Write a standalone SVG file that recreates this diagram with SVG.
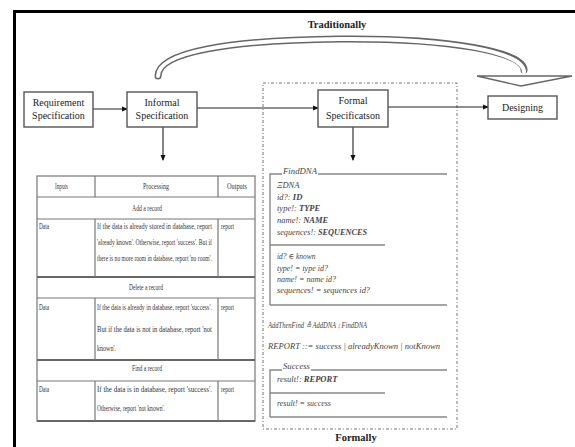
<svg xmlns="http://www.w3.org/2000/svg" width="575" height="447" viewBox="0 0 575 447">
<defs>
<marker id="ah" markerWidth="6" markerHeight="6" refX="5" refY="3" orient="auto" markerUnits="userSpaceOnUse">
<path d="M0,0.5 L6,3 L0,5.5 Z" fill="#111"/>
</marker>
<style>
.box{fill:#fff;stroke:#555;stroke-width:1.4}
.bt{font-family:"Liberation Serif","DejaVu Serif",serif;font-size:10px;fill:#222;text-anchor:middle}
.con{stroke:#222;stroke-width:1.1;fill:none;marker-end:url(#ah)}
.tl{stroke:#777;stroke-width:1.2;fill:none}
.tk{stroke:#666;stroke-width:2.2;fill:none}
.tt{font-family:"Liberation Serif","DejaVu Serif",serif;font-size:9px;fill:#333}
.z{font-family:"Liberation Serif","DejaVu Serif",serif;font-size:8.5px;font-style:italic;fill:#444}
.zb{font-weight:bold}
.zl{stroke:#888;stroke-width:1.4;fill:none}
.lab{font-family:"Liberation Serif","DejaVu Serif",serif;font-size:10.5px;font-weight:bold;fill:#222;text-anchor:middle}
</style>
</defs>
<rect width="575" height="447" fill="#fff"/>
<!-- frame -->
<path d="M14.5,447 V11.5 H575" fill="none" stroke="#000" stroke-width="3"/>

<!-- traditional curved hollow arrow -->
<g id="traditionally">
<text class="lab" x="337" y="28">Traditionally</text>
<path d="M158,76 C158,52 230,40 340,39 C450,38 524,52 524,70" fill="none" stroke="#666" stroke-width="7" stroke-linecap="round"/>
<path d="M158,76 C158,52 230,40 340,39 C450,38 524,52 524,72" fill="none" stroke="#fff" stroke-width="4" stroke-linecap="round"/>
<polygon points="477,76 572,76 521,86" fill="#fff" stroke="#666" stroke-width="1.3"/>
</g>

<!-- formally region -->
<g id="formally">
<rect x="263" y="83" width="194" height="346" fill="none" stroke="#777" stroke-width="1" stroke-dasharray="3,2,1,2"/>
<text class="lab" x="356" y="441">Formally</text>
</g>

<g id="connectors">
<line class="con" x1="93" y1="109" x2="127" y2="109"/>
<line class="con" x1="197" y1="108" x2="318" y2="108"/>
<line class="con" x1="388" y1="107" x2="488" y2="107"/>
<line class="con" x1="163" y1="127" x2="163" y2="160"/>
<line class="con" x1="353" y1="127" x2="353" y2="160"/>
</g>

<g id="requirement">
<rect class="box" x="24" y="92" width="69" height="35"/>
<text class="bt" x="58.5" y="106">Requirement</text>
<text class="bt" x="58.5" y="118.5">Specification</text>
</g>
<g id="informal">
<rect class="box" x="127" y="92" width="70" height="35"/>
<text class="bt" x="162" y="105.5">Informal</text>
<text class="bt" x="162" y="118.5">Specification</text>
</g>
<g id="formal">
<rect class="box" x="318" y="90" width="70" height="37"/>
<text class="bt" x="353" y="104">Formal</text>
<text class="bt" x="353" y="118.5">Specificatson</text>
</g>
<g id="designing">
<rect class="box" x="488" y="96" width="69" height="23"/>
<text class="bt" x="522.5" y="110.5">Designing</text>
</g>

<!-- informal table -->
<g id="informal-table">
<rect class="tl" x="37" y="176" width="218" height="245"/>
<line class="tl" x1="37" y1="197" x2="255" y2="197"/>
<line class="tl" x1="37" y1="219" x2="255" y2="219"/>
<line class="tk" x1="37" y1="277" x2="255" y2="277"/>
<line class="tl" x1="37" y1="298" x2="255" y2="298"/>
<line class="tk" x1="37" y1="360" x2="255" y2="360"/>
<line class="tl" x1="37" y1="381" x2="255" y2="381"/>
<line class="tk" x1="37" y1="421" x2="255" y2="421"/>
<path class="tl" d="M95,176 V197 M218,176 V197 M95,219 V277 M218,219 V277 M95,298 V360 M218,298 V360 M95,381 V421 M218,381 V421"/>
<text class="tt" x="55" y="189" textLength="13" lengthAdjust="spacingAndGlyphs">Inputs</text>
<text class="tt" x="143" y="189" textLength="26" lengthAdjust="spacingAndGlyphs">Processing</text>
<text class="tt" x="227" y="189" textLength="20" lengthAdjust="spacingAndGlyphs">Outputs</text>
<text class="tt" x="132" y="211" textLength="30" lengthAdjust="spacingAndGlyphs">Add a record</text>
<text class="tt" x="39" y="229" textLength="10" lengthAdjust="spacingAndGlyphs">Data</text>
<text class="tt" transform="translate(97,229) scale(0.68,1)" textLength="169" lengthAdjust="spacingAndGlyphs">If the data is already stored in database, report</text>
<text class="tt" transform="translate(97,245) scale(0.68,1)" textLength="169" lengthAdjust="spacingAndGlyphs">'already known'. Otherwise, report 'success'. But if</text>
<text class="tt" transform="translate(97,261) scale(0.68,1)" textLength="169" lengthAdjust="spacingAndGlyphs">there is no more room in database, report 'no room'.</text>
<text class="tt" x="221" y="229" textLength="13" lengthAdjust="spacingAndGlyphs">report</text>
<text class="tt" x="129" y="290" textLength="34" lengthAdjust="spacingAndGlyphs">Delete a record</text>
<text class="tt" x="39" y="310" textLength="10" lengthAdjust="spacingAndGlyphs">Data</text>
<text class="tt" transform="translate(97,310) scale(0.68,1)" textLength="169" lengthAdjust="spacingAndGlyphs">If the data is already in database, report 'success'.</text>
<text class="tt" transform="translate(97,332) scale(0.68,1)" textLength="169" lengthAdjust="spacingAndGlyphs">But if the data is not in database, report 'not</text>
<text class="tt" transform="translate(97,351) scale(0.68,1)" textLength="28" lengthAdjust="spacingAndGlyphs">known'.</text>
<text class="tt" x="221" y="310" textLength="13" lengthAdjust="spacingAndGlyphs">report</text>
<text class="tt" x="132" y="371" textLength="30" lengthAdjust="spacingAndGlyphs">Find a record</text>
<text class="tt" x="39" y="392" textLength="10" lengthAdjust="spacingAndGlyphs">Data</text>
<text class="tt" transform="translate(97,392) scale(0.68,1)" textLength="169" lengthAdjust="spacingAndGlyphs">If the data is in database, report 'success'.</text>
<text class="tt" transform="translate(97,411) scale(0.68,1)" textLength="100" lengthAdjust="spacingAndGlyphs">Otherwise, report 'not known'.</text>
<text class="tt" x="221" y="392" textLength="13" lengthAdjust="spacingAndGlyphs">report</text>
</g>

<!-- Z specification -->
<g id="finddna-schema">
<path class="zl" d="M270,305 V174 H282 M318,174 H447 M270,245 H385 M270,305 H447"/>
<text class="z" x="283" y="174" textLength="34" lengthAdjust="spacingAndGlyphs">FindDNA</text>
<text class="z" x="277" y="188">ΞDNA</text>
<text class="z" x="277" y="199.5">id?: <tspan class="zb">ID</tspan></text>
<text class="z" x="277" y="211">type!: <tspan class="zb">TYPE</tspan></text>
<text class="z" x="277" y="222.5">name!: <tspan class="zb">NAME</tspan></text>
<text class="z" x="277" y="234.5" textLength="90" lengthAdjust="spacingAndGlyphs">sequences!: <tspan class="zb">SEQUENCES</tspan></text>
<text class="z" x="277" y="259" style="font-size:7.5px">id? ∈ known</text>
<text class="z" x="277" y="271" style="font-size:8px">type! = type id?</text>
<text class="z" x="277" y="282" style="font-size:8px">name! = name id?</text>
<text class="z" x="277" y="293" style="font-size:8px" textLength="93" lengthAdjust="spacingAndGlyphs">sequences! = sequences id?</text>
</g>
<g id="addthenfind">
<text class="z" x="268" y="328" textLength="99" lengthAdjust="spacingAndGlyphs">AddThenFind  ≙ AddDNA ⨟ FindDNA</text>
</g>
<g id="report-type">
<text class="z" x="268" y="349" textLength="172" lengthAdjust="spacingAndGlyphs">REPORT ::=  success  |  alreadyKnown  |  notKnown</text>
</g>
<g id="success-schema">
<path class="zl" d="M270,417 V370 H282 M311,370 H447 M270,393 H385 M270,417 H447"/>
<text class="z" x="283" y="369" textLength="27" lengthAdjust="spacingAndGlyphs">Success</text>
<text class="z" x="277" y="382">result!: <tspan class="zb">REPORT</tspan></text>
<text class="z" x="277" y="406" style="font-size:8px">result! = success</text>
</g>
</svg>
